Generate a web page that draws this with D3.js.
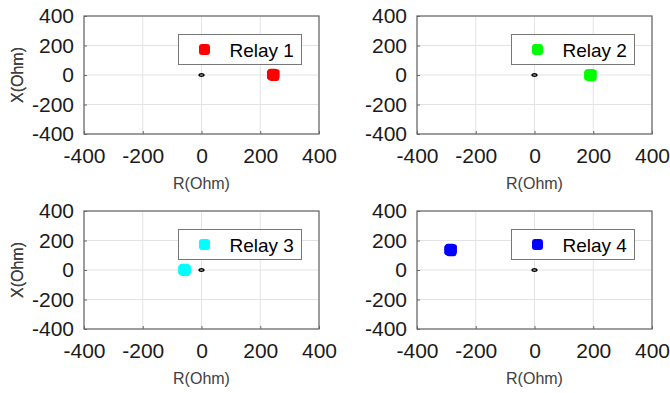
<!DOCTYPE html>
<html>
<head>
<meta charset="utf-8">
<script src="https://cdn.jsdelivr.net/npm/d3@7"></script>
<style>
  body { margin: 0; background: #fff; }
  svg { display: block; font-family: Arial, "Liberation Sans", sans-serif; }
</style>
</head>
<body>
<script>
// data -----------------------------------
const relayNames = ["Relay 1", "Relay 2", "Relay 3", "Relay 4"];
const relayColors = ["#ff0000", "#00ff00", "#00ffff", "#0000ff"];
// impedance points seen by each relay (R, X)
const relayR = [
  [240, 245, 249, 243, 247, 241],
  [186, 191, 195, 189, 193, 187],
  [-62, -57, -53, -59, -55, -61],
  [-290, -285, -281, -287, -283, -289]
];
const relayX = [
  [4, -3, 5, 9, -6, 0],
  [0, -7, 3, 6, -9, -2],
  [2, -5, 4, 8, -7, -1],
  [137, 130, 140, 144, 127, 134]
];
// small trace around the origin
const originR = [8, 6, 0, -6, -8, -6, 0, 6];
const originX = [0, 6, 8, 6, 0, -6, -8, -6];
const ticks = [-400, -200, 0, 200, 400];

// layout -----------------------------------
const width = 670, height = 393;
const panelLeft = [84, 417];
const panelTop = [16, 211];
const pw = 235, ph = 118;

const svg = d3.select(document.body).append("svg")
  .attr("width", width)
  .attr("height", height);

relayNames.forEach((name, k) => {
  const ox = panelLeft[k % 2], oy = panelTop[Math.floor(k / 2)];
  const g = svg.append("g").attr("transform", `translate(${ox},${oy})`);

  const x = d3.scaleLinear().domain([-400, 400]).range([0, pw]);
  const y = d3.scaleLinear().domain([-400, 400]).range([ph, 0]);

  // grid
  g.append("g").selectAll("line.gx")
    .data(ticks)
    .join("line")
      .attr("x1", d => x(d)).attr("x2", d => x(d))
      .attr("y1", 0).attr("y2", ph)
      .attr("stroke", "#e3e3e3");
  g.append("g").selectAll("line.gy")
    .data(ticks)
    .join("line")
      .attr("y1", d => y(d)).attr("y2", d => y(d))
      .attr("x1", 0).attr("x2", pw)
      .attr("stroke", "#e3e3e3");

  // axes (ticks inward, plain hyphen for minus)
  const fmt = d => String(d);
  const xAxis = g.append("g").attr("transform", `translate(0,${ph})`)
    .call(d3.axisBottom(x).tickValues(ticks).tickFormat(fmt).tickSize(-3).tickPadding(9));
  const yAxis = g.append("g")
    .call(d3.axisLeft(y).tickValues(ticks).tickFormat(fmt).tickSize(-3).tickPadding(10));
  [xAxis, yAxis].forEach(a => {
    a.select(".domain").remove();
    a.selectAll(".tick line").attr("stroke", "#666");
    a.selectAll("text")
      .attr("font-size", 21)
      .attr("font-family", "Arial, 'Liberation Sans', sans-serif")
      .attr("fill", "#1a1a1a");
  });
  xAxis.selectAll("text").attr("dy", "0.95em");

  // box
  g.append("rect")
    .attr("x", 0).attr("y", 0)
    .attr("width", pw).attr("height", ph)
    .attr("fill", "none")
    .attr("stroke", "#666")
    .attr("stroke-width", 1.2);

  // axis labels
  g.append("text")
    .attr("x", pw / 2).attr("y", ph + 55)
    .attr("text-anchor", "middle")
    .attr("font-size", 16)
    .attr("fill", "#404040")
    .text("R(Ohm)");
  g.append("text")
    .attr("transform", `translate(${-ox + 23},${ph / 2}) rotate(-90)`)
    .attr("text-anchor", "middle")
    .attr("font-size", 16)
    .attr("fill", "#404040")
    .text("X(Ohm)");

  // origin trace
  g.append("path")
    .datum(d3.range(originR.length))
    .attr("fill", "none")
    .attr("stroke", "#000")
    .attr("stroke-width", 1.6)
    .attr("d", d3.line()
      .x(i => x(originR[i]))
      .y(i => y(originX[i]))
      .curve(d3.curveCardinalClosed));

  // relay points
  g.append("g").selectAll("rect")
    .data(d3.range(relayR[k].length))
    .join("rect")
      .attr("x", i => x(relayR[k][i]) - 5)
      .attr("y", i => y(relayX[k][i]) - 5)
      .attr("width", 10).attr("height", 10)
      .attr("rx", 2.5)
      .attr("fill", relayColors[k]);

  // legend
  const lg = g.append("g").attr("transform", "translate(94.5,18.5)");
  lg.append("rect")
    .attr("width", 123).attr("height", 30)
    .attr("fill", "#fff")
    .attr("stroke", "#777")
    .attr("stroke-width", 1);
  lg.append("rect")
    .attr("x", 20.5).attr("y", 9.5)
    .attr("width", 11).attr("height", 11)
    .attr("rx", 3)
    .attr("fill", relayColors[k]);
  lg.append("text")
    .attr("x", 51).attr("y", 22)
    .attr("font-size", 19)
    .attr("fill", "#000")
    .text(name);
});
</script>
</body>
</html>
